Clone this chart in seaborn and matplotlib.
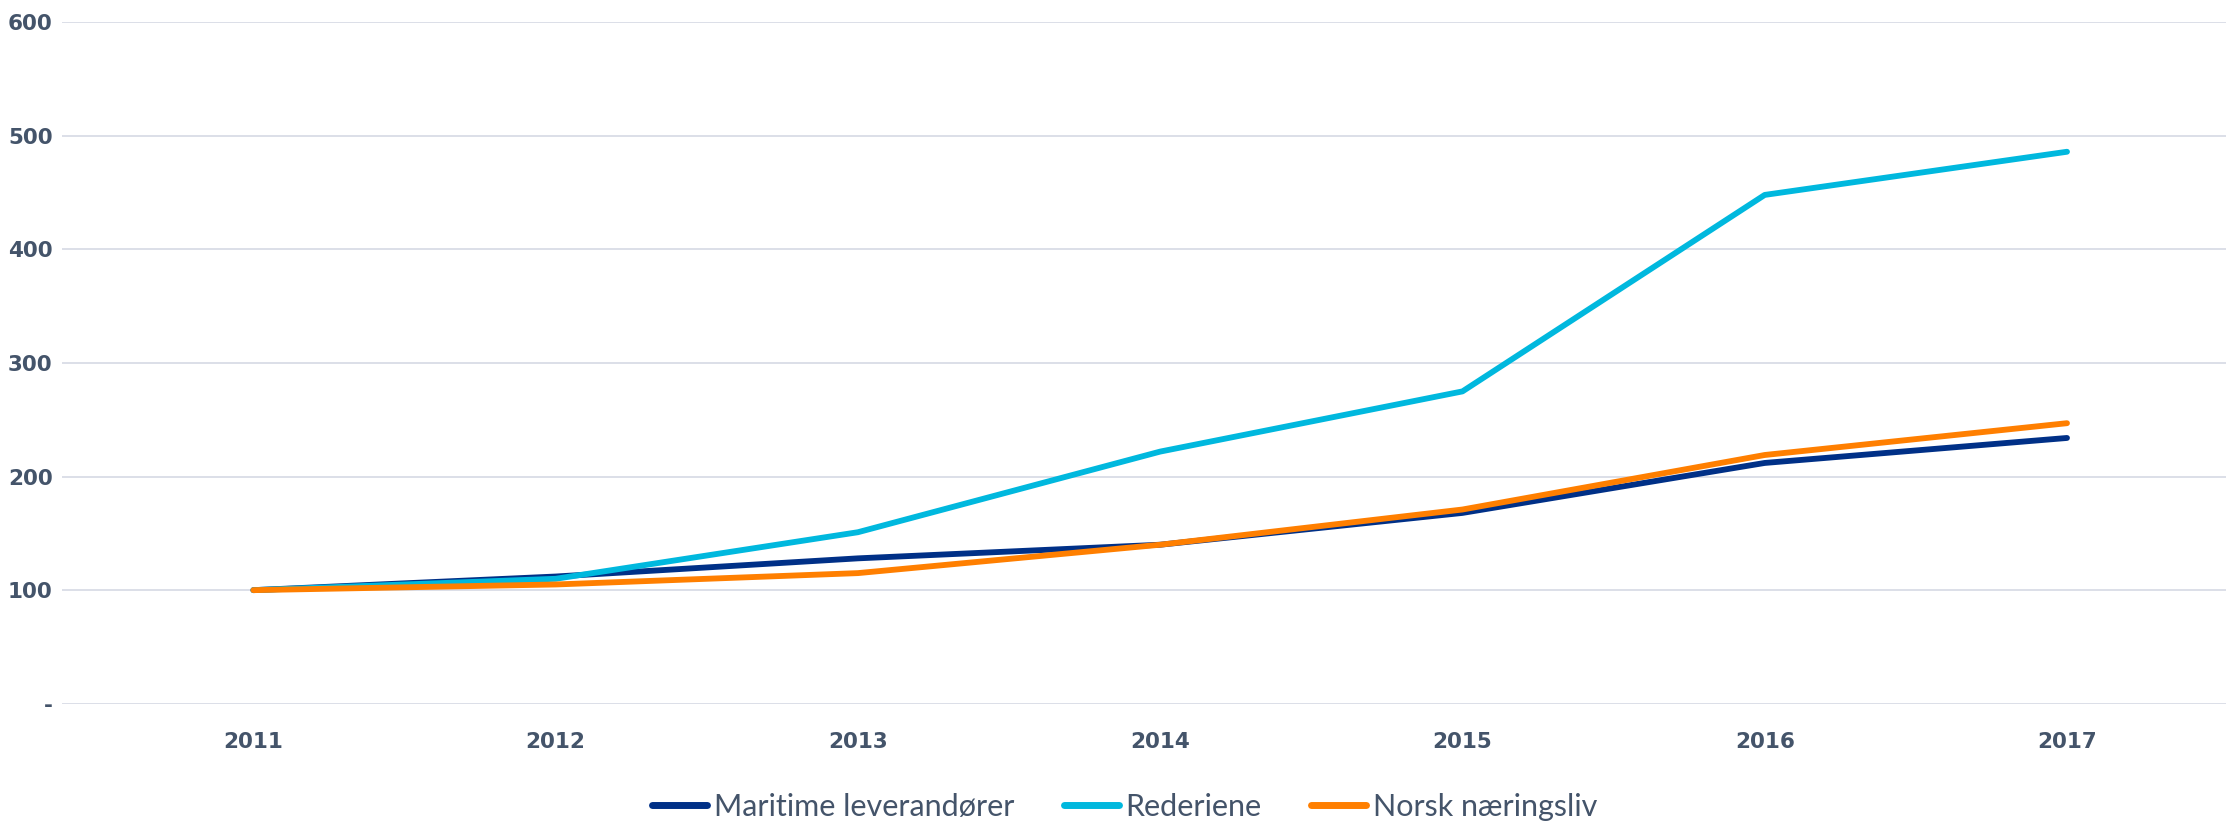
import pandas as pd
import matplotlib.pyplot as plt
import seaborn as sns

years = ["2011", "2012", "2013", "2014", "2015", "2016", "2017"]
maritime = [100, 112, 128, 140, 168, 212, 234]
rederiene = [100, 110, 151, 222, 275, 448, 486]
norsk = [100, 105, 115, 140, 171, 219, 247]

series = ["Maritime leverandører", "Rederiene", "Norsk næringsliv"]
colors = ["#003087", "#00B8DE", "#FF7F00"]

df = pd.DataFrame({
    "year": years * 3,
    "value": maritime + rederiene + norsk,
    "series": [series[0]] * 7 + [series[1]] * 7 + [series[2]] * 7,
})

sns.set_style("white")
plt.rcParams["font.family"] = ["DejaVu Sans"]

fig = plt.figure(figsize=(22.26, 8.25), dpi=100)
ax = fig.add_axes([0.028, 0.147, 0.972, 0.826])

sns.lineplot(data=df, x="year", y="value", hue="series", hue_order=series,
             palette=colors, linewidth=4.2, sort=False, ax=ax,
             solid_capstyle="round")

ax.set_ylim(0, 600)
ax.set_xlim(-0.632, 6.526)
ax.set_yticks([0, 100, 200, 300, 400, 500, 600])
ax.set_yticklabels(["-", "100", "200", "300", "400", "500", "600"])
ax.yaxis.grid(True, color="#D9DCE6", linewidth=1.3)
ax.set_axisbelow(True)
for s in ax.spines.values():
    s.set_visible(False)
ax.tick_params(axis="both", length=0, labelsize=15.5, labelcolor="#44546A")
ax.tick_params(axis="y", pad=7)
ax.tick_params(axis="x", pad=20)
for lab in ax.get_xticklabels() + ax.get_yticklabels():
    lab.set_fontweight("bold")
ax.set_xlabel("")
ax.set_ylabel("")

leg = ax.legend(loc="upper center", bbox_to_anchor=(0.491, -0.09), ncol=3,
                frameon=False, handlelength=1.8, handletextpad=0.23,
                columnspacing=1.6,
                prop={"family": ["Lato", "DejaVu Sans"], "size": 22})
for t in leg.get_texts():
    t.set_color("#44546A")
for h in leg.get_lines():
    h.set_linewidth(5)

fig.savefig("out.png", dpi=100)
